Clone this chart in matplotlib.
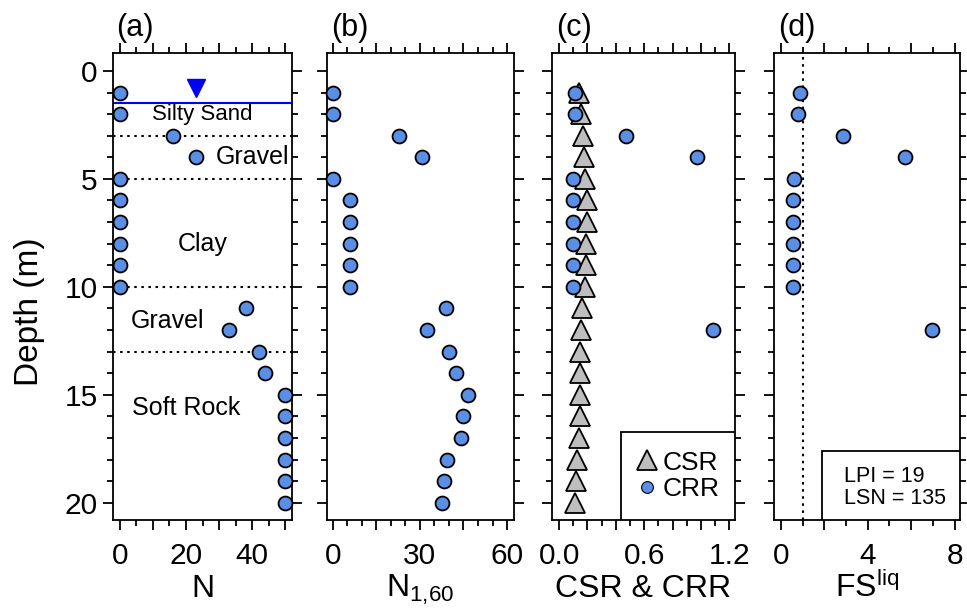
import matplotlib
matplotlib.use("Agg")
import matplotlib.pyplot as plt
from matplotlib.patches import Rectangle
from matplotlib.ticker import MultipleLocator
from matplotlib.lines import Line2D

plt.rcParams['font.family'] = ['Liberation Sans', 'DejaVu Sans']
plt.rcParams['mathtext.default'] = 'regular'

# ---------------- data ----------------
depth = [1, 2, 3, 4, 5, 6, 7, 8, 9, 10, 11, 12, 13, 14, 15, 16, 17, 18, 19, 20]
N_spt = [0, 0, 16, 23, 0, 0, 0, 0, 0, 0, 38, 33, 42, 44, 50, 50, 50, 50, 50, 50]
N160 = [0, 0, 22.8, 30.7, 0, 6, 6, 6, 6, 6, 39, 32.4, 40, 42.4, 46.6, 45, 44, 39.3, 38.3, 37.5]
CSR = [0.14, 0.155, 0.17, 0.175, 0.18, 0.195, 0.195, 0.19, 0.19, 0.185,
       0.16, 0.155, 0.15, 0.15, 0.148, 0.145, 0.137, 0.127, 0.12, 0.115]
crr_depth = [1, 2, 3, 4, 5, 6, 7, 8, 9, 10, 12]
CRR = [0.115, 0.11, 0.47, 0.97, 0.1, 0.1, 0.1, 0.1, 0.1, 0.1, 1.085]
FS = [0.88, 0.78, 2.87, 5.7, 0.6, 0.55, 0.55, 0.55, 0.55, 0.55, 6.95]

layer_bounds = [3, 5, 10, 13]
water_table = 1.5
wt_marker_x = 23
layer_names = ["Silty Sand", "Gravel", "Clay", "Gravel", "Soft Rock"]
layer_label_x = [25, 40, 25, 14.5, 20]
layer_label_y = [2.0, 4.0, 8.0, 11.6, 15.6]
layer_label_fs = [16, 18, 18, 18, 18]
x_labels = ['N', 'N$_{1{,}60}$', 'CSR & CRR', 'FS$^{liq}$']
lpi_text = "LPI = 19\nLSN = 135"
panel_tags = ["(a)", "(b)", "(c)", "(d)"]

BLUE = '#5B8FE6'
GREY = '#BEBEBE'

fig = plt.figure(figsize=(9.67, 6.09), dpi=100)
W, H = 967, 609
top_px, bot_px = 53, 520
xs = [(113, 292), (327, 514), (552, 735), (774, 960)]
axes = []
for (x0, x1) in xs:
    ax = fig.add_axes([x0 / W, (H - bot_px) / H, (x1 - x0) / W, (bot_px - top_px) / H])
    axes.append(ax)

ms_c = 10
mew = 1.3
TICK_FS = 21.5
LAB_FS = 23

for i, ax in enumerate(axes):
    ax.set_ylim(20.8, -0.83)
    ax.yaxis.set_major_locator(MultipleLocator(5))
    ax.yaxis.set_minor_locator(MultipleLocator(1))
    ax.tick_params(axis='both', which='both', direction='out', top=True, right=True,
                   labelsize=TICK_FS, width=1.3, pad=4)
    ax.tick_params(axis='both', which='major', length=7)
    ax.tick_params(axis='both', which='minor', length=4)
    ax.tick_params(axis='x', which='major', pad=9)
    for sp in ax.spines.values():
        sp.set_linewidth(1.3)
    if i > 0:
        ax.tick_params(axis='y', labelleft=False)
    ax.text(0.12, 1 + 25 / 467, panel_tags[i], transform=ax.transAxes,
            ha='center', va='center', fontsize=22)
    lab = ax.set_xlabel(x_labels[i], fontsize=LAB_FS)
    lab.set_va('baseline')
    ax.xaxis.set_label_coords(0.5, (520 - 597) / 467)

# (a)
ax = axes[0]
ax.set_xlim(-2, 52)
ax.xaxis.set_major_locator(MultipleLocator(10))
ax.xaxis.set_minor_locator(MultipleLocator(5))
ax.xaxis.set_major_formatter(plt.FuncFormatter(lambda v, p: f"{v:.0f}" if round(v) % 20 == 0 else ""))
for d in layer_bounds:
    ax.axhline(d, color='black', ls=(0, (1.2, 2.2)), lw=1.5, zorder=1)
ax.axhline(water_table, color='#0000FF', lw=1.5, zorder=1)
ax.plot([wt_marker_x], [0.8], marker='v', color='#0000FF', ms=13, ls='none', zorder=3)
for name, x, y, fs in zip(layer_names, layer_label_x, layer_label_y, layer_label_fs):
    ax.text(x, y, name, ha='center', va='center', fontsize=fs)
ax.plot(N_spt, depth, 'o', ms=ms_c, mfc=BLUE, mec='black', mew=mew, zorder=4, clip_on=False)
ax.set_ylabel('Depth (m)', fontsize=24)
ax.yaxis.set_label_coords(-0.38, 0.447)

# (b)
ax = axes[1]
ax.set_xlim(-2, 62.4)
ax.xaxis.set_major_locator(MultipleLocator(15))
ax.xaxis.set_minor_locator(MultipleLocator(5))
ax.xaxis.set_major_formatter(plt.FuncFormatter(lambda v, p: f"{v:.0f}" if round(v) % 30 == 0 else ""))
ax.plot(N160, depth, 'o', ms=ms_c, mfc=BLUE, mec='black', mew=mew, zorder=4, clip_on=False)

# (c)
ax = axes[2]
ax.set_xlim(-0.05, 1.24)
ax.xaxis.set_major_locator(MultipleLocator(0.2))
ax.xaxis.set_minor_locator(MultipleLocator(0.1))
ax.xaxis.set_major_formatter(plt.FuncFormatter(
    lambda v, p: f"{v:.1f}" if abs(round(v / 0.6) * 0.6 - v) < 1e-6 else ""))
ax.plot(CSR, depth, '^', ms=15, mfc=GREY, mec='black', mew=mew, zorder=3, label='CSR')
ax.plot(CRR, crr_depth, 'o', ms=ms_c, mfc=BLUE, mec='black', mew=mew, zorder=4, label='CRR')
bx0 = (621 - 552) / 183
bh = (520 - 432) / 467
ax.add_patch(Rectangle((bx0, 0), 1 - bx0, bh, transform=ax.transAxes, fill=True,
                       fc='white', ec='black', lw=1.3, zorder=5))
handles = [Line2D([], [], marker='^', ls='none', ms=14, mfc=GREY, mec='black', mew=mew),
           Line2D([], [], marker='o', ls='none', ms=8.5, mfc=BLUE, mec='black', mew=0.8)]
leg = ax.legend(handles, ['CSR', 'CRR'], loc='center', bbox_to_anchor=(bx0, 0, 1 - bx0, bh),
                frameon=False, fontsize=19, handlelength=0.8, handletextpad=0.2,
                labelspacing=0.1, borderpad=0, borderaxespad=0)
leg.set_zorder(6)

# (d)
ax = axes[3]
ax.set_xlim(-0.32, 8.25)
ax.xaxis.set_major_locator(MultipleLocator(2))
ax.xaxis.set_minor_locator(MultipleLocator(1))
ax.xaxis.set_major_formatter(plt.FuncFormatter(lambda v, p: f"{v:.0f}" if round(v) % 4 == 0 else ""))
ax.axvline(1.0, color='black', ls=(0, (1.2, 2.2)), lw=1.5, zorder=1)
ax.plot(FS, crr_depth, 'o', ms=ms_c, mfc=BLUE, mec='black', mew=mew, zorder=4)
dx0 = (822 - 774) / 186
dh = (520 - 451) / 467
ax.add_patch(Rectangle((dx0, 0), 1 - dx0, dh, transform=ax.transAxes, fill=True,
                       fc='white', ec='black', lw=1.3, zorder=5))
ax.text((844 - 774) / 186, (520 - 487.5) / 467, lpi_text, transform=ax.transAxes,
        ha='left', va='center', fontsize=15.5, linespacing=1.05, zorder=6)

fig.savefig('out.png', dpi=100)
